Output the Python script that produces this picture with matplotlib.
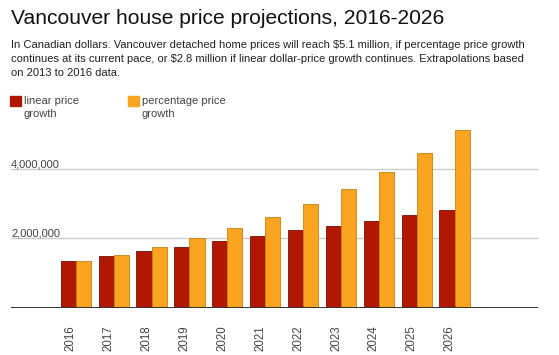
import matplotlib.pyplot as plt
import matplotlib.transforms as mtransforms
import numpy as np

# data (Canadian dollars)
years = ["2016", "2017", "2018", "2019", "2020", "2021",
         "2022", "2023", "2024", "2025", "2026"]
linear_growth = [1350000, 1490000, 1640000, 1760000, 1940000, 2070000,
                 2250000, 2360000, 2510000, 2680000, 2810000]
pct_growth = [1350000, 1510000, 1760000, 2010000, 2290000, 2610000,
              3000000, 3430000, 3920000, 4460000, 5140000]
grid_values = [2000000, 4000000]

RED = "#b01800"
ORANGE = "#f9a521"

plt.rcParams["font.family"] = ["Liberation Sans", "DejaVu Sans"]

fig = plt.figure(figsize=(5.59, 3.55), dpi=100)
ax = fig.add_axes([0.0197, 0.1332, 0.9427, 0.5167])

x = np.arange(len(years))
w = 0.4
ax.bar(x - w / 2, linear_growth, w, color=RED, edgecolor="#7a1000", linewidth=0.6, zorder=3)
ax.bar(x + w / 2, pct_growth, w, color=ORANGE, edgecolor="#c98010", linewidth=0.6, zorder=3)

ax.set_xlim(-1.71, 12.2)
ax.set_ylim(0, 5300000)

for v in grid_values:
    ax.axhline(v, color="#cccccc", linewidth=1, zorder=1)
    ax.text(0, v, f"{v:,}", transform=ax.get_yaxis_transform(),
            ha="left", va="bottom", fontsize=8, color="#444444")
ax.axhline(0, color="#333333", linewidth=1.4, zorder=4)

for s in ax.spines.values():
    s.set_visible(False)
ax.set_yticks([])
ax.set_xticks(x)
ax.set_xticklabels(years, rotation=90, fontsize=8.3, color="#444444", va="top")
ax.tick_params(axis="x", length=0, pad=12.5)
shift = mtransforms.ScaledTranslation(-5 / 100, 0, fig.dpi_scale_trans)
for lab in ax.get_xticklabels():
    lab.set_transform(lab.get_transform() + shift)

# title, subtitle and legend
fig.text(11 / 559, 1 - 18 / 355, "Vancouver house price projections, 2016-2026",
         fontsize=15.1, color="#111111", va="center")
subtitle = ("In Canadian dollars. Vancouver detached home prices will reach $5.1 million, if percentage price growth\n"
            "continues at its current pace, or $2.8 million if linear dollar-price growth continues. Extrapolations based\n"
            "on 2013 to 2016 data.")
fig.text(11 / 559, 1 - 40 / 355, subtitle, fontsize=8.05, color="#222222",
         va="top", linespacing=1.52)

legend_items = [("linear price\ngrowth", RED, 10), ("percentage price\ngrowth", ORANGE, 128)]
for label, color, lx in legend_items:
    fig.patches.append(plt.Rectangle((lx / 559, 1 - 106 / 355), 11 / 559, 10 / 355,
                                     transform=fig.transFigure, color=color))
    fig.text((lx + 14) / 559, 1 - 96 / 355, label, fontsize=8, color="#444444",
             va="top", linespacing=1.35)

fig.savefig("out.png", dpi=100, facecolor="white")
